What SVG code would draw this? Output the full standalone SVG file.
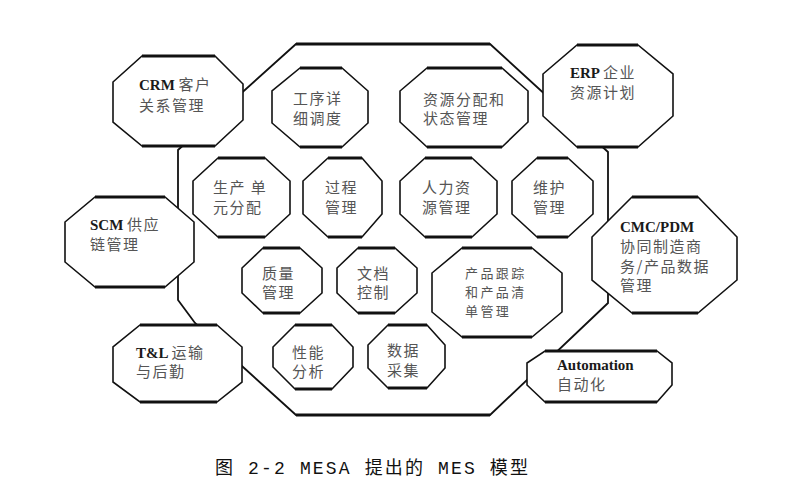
<svg xmlns="http://www.w3.org/2000/svg" width="786" height="502" viewBox="0 0 786 502">
<style>
.oct{fill:#fff;stroke:#111;stroke-width:1.6;stroke-linejoin:miter}
.edge{fill:none;stroke:#111;stroke-width:3.2}
.cn{font-family:"Noto Sans CJK SC","Noto Sans",sans-serif;font-size:15px;fill:#555;letter-spacing:1.5px}
.sm{font-size:13px;letter-spacing:2.4px}
.en{font-family:"Liberation Serif",serif;font-size:15px;font-weight:bold;fill:#1a1a1a}
.cap{font-family:"Liberation Mono","Noto Sans CJK SC",monospace;font-size:18px;fill:#111}
</style>
<rect width="786" height="502" fill="#fff"/>
<g id="mes-boundary">
<polygon points="296,44 490,44 608,152 608,303 490,415 296,415 243,367 195,323 178,300 178,150" fill="#fff" stroke="#111" stroke-width="1.8"/>
<path class="edge" d="M296,44H490M296,415H490"/>
</g>
<g id="connectors"></g>
<g id="crm"><polygon class="oct" points="142,56 215,56 243,84 243,120 215,146 142,146 113,122 113,82"/><path class="edge" d="M142,56H215M142,146H215"/>
<text x="139" y="90"><tspan class="en">CRM </tspan><tspan class="cn">客户</tspan></text><text class="cn" x="139" y="111">关系管理</text></g>
<g id="erp"><polygon class="oct" points="577,45 638,45 673,74 673,116 638,147 577,147 543,116 543,74"/><path class="edge" d="M577,45H638M577,147H638"/>
<text x="570" y="78"><tspan class="en">ERP </tspan><tspan class="cn">企业</tspan></text><text class="cn" x="570" y="98">资源计划</text></g>
<g id="scheduling"><polygon class="oct" points="300,68 342,68 368,91 368,123 342,147 300,147 272,123 272,91"/><path class="edge" d="M300,68H342M300,147H342"/>
<text class="cn" x="293" y="104">工序详</text><text class="cn" x="293" y="124">细调度</text></g>
<g id="resource"><polygon class="oct" points="427,68 502,68 528,91 528,122 502,147 427,147 400,122 400,91"/><path class="edge" d="M427,68H502M427,147H502"/>
<text class="cn" x="423" y="105">资源分配和</text><text class="cn" x="423" y="124">状态管理</text></g>
<g id="dispatch"><polygon class="oct" points="218,158 265,158 290,181 290,214 265,237 218,237 193,214 193,181"/><path class="edge" d="M218,158H265M218,237H265"/>
<text class="cn" x="213" y="193">生产 单</text><text class="cn" x="213" y="213">元分配</text></g>
<g id="process"><polygon class="oct" points="328,158 362,158 382,181 382,214 362,237 328,237 303,214 303,181"/><path class="edge" d="M328,158H362M328,237H362"/>
<text class="cn" x="325" y="193">过程</text><text class="cn" x="325" y="213">管理</text></g>
<g id="labor"><polygon class="oct" points="425,158 472,158 497,181 497,214 472,237 425,237 400,214 400,181"/><path class="edge" d="M425,158H472M425,237H472"/>
<text class="cn" x="422" y="193">人力资</text><text class="cn" x="422" y="213">源管理</text></g>
<g id="maintenance"><polygon class="oct" points="537,158 568,158 593,181 593,214 568,237 537,237 512,214 512,181"/><path class="edge" d="M537,158H568M537,237H568"/>
<text class="cn" x="533" y="193">维护</text><text class="cn" x="533" y="213">管理</text></g>
<g id="scm"><polygon class="oct" points="95,197 165,197 194,222 194,262 165,287 95,287 65,262 65,222"/><path class="edge" d="M95,197H165M95,287H165"/>
<text x="90" y="230"><tspan class="en">SCM </tspan><tspan class="cn">供应</tspan></text><text class="cn" x="90" y="250">链管理</text></g>
<g id="cmc-pdm"><polygon class="oct" points="632,197 698,197 737,237 737,280 698,313 632,313 592,280 592,237"/><path class="edge" d="M632,197H698M632,313H698"/>
<text class="en" x="620" y="232">CMC/PDM</text><text class="cn" x="620" y="252">协同制造商</text><text class="cn" x="620" y="272">务/产品数据</text><text class="cn" x="620" y="291">管理</text></g>
<g id="quality"><polygon class="oct" points="263,248 300,248 322,268 322,293 300,313 263,313 242,293 242,268"/><path class="edge" d="M263,248H300M263,313H300"/>
<text class="cn" x="262" y="279">质量</text><text class="cn" x="262" y="298">管理</text></g>
<g id="document"><polygon class="oct" points="358,248 395,248 417,268 417,293 395,313 358,313 337,293 337,268"/><path class="edge" d="M358,248H395M358,313H395"/>
<text class="cn" x="357" y="279">文档</text><text class="cn" x="357" y="298">控制</text></g>
<g id="tracking"><polygon class="oct" points="462,248 532,248 562,273 562,312 532,337 462,337 432,312 432,273"/><path class="edge" d="M462,248H532M462,337H532"/>
<text class="cn sm" x="465" y="278">产品跟踪</text><text class="cn sm" x="465" y="297">和产品清</text><text class="cn sm" x="465" y="316">单管理</text></g>
<g id="performance"><polygon class="oct" points="295,325 332,325 353,347 353,367 332,389 295,389 273,367 273,347"/><path class="edge" d="M295,325H332M295,389H332"/>
<text class="cn" x="292" y="358">性能</text><text class="cn" x="292" y="377">分析</text></g>
<g id="data"><polygon class="oct" points="388,325 427,325 445,345 445,368 427,388 388,388 368,368 368,345"/><path class="edge" d="M388,325H427M388,388H427"/>
<text class="cn" x="387" y="356">数据</text><text class="cn" x="387" y="376">采集</text></g>
<g id="tl"><polygon class="oct" points="140,325 217,325 242,347 242,382 217,402 140,402 113,382 113,347"/><path class="edge" d="M140,325H217M140,402H217"/>
<text x="136" y="358"><tspan class="en">T&amp;L </tspan><tspan class="cn">运输</tspan></text><text class="cn" x="136" y="377">与后勤</text></g>
<g id="automation"><polygon class="oct" points="545,351 657,351 672,363 672,385 657,402 545,402 527,385 527,363"/><path class="edge" d="M545,351H657M545,402H657"/>
<text class="en" x="557" y="370">Automation</text><text class="cn" x="557" y="390">自动化</text></g>
<text class="cap" x="215" y="474" textLength="313" lengthAdjust="spacing">图 2-2 MESA 提出的 MES 模型</text>
</svg>
